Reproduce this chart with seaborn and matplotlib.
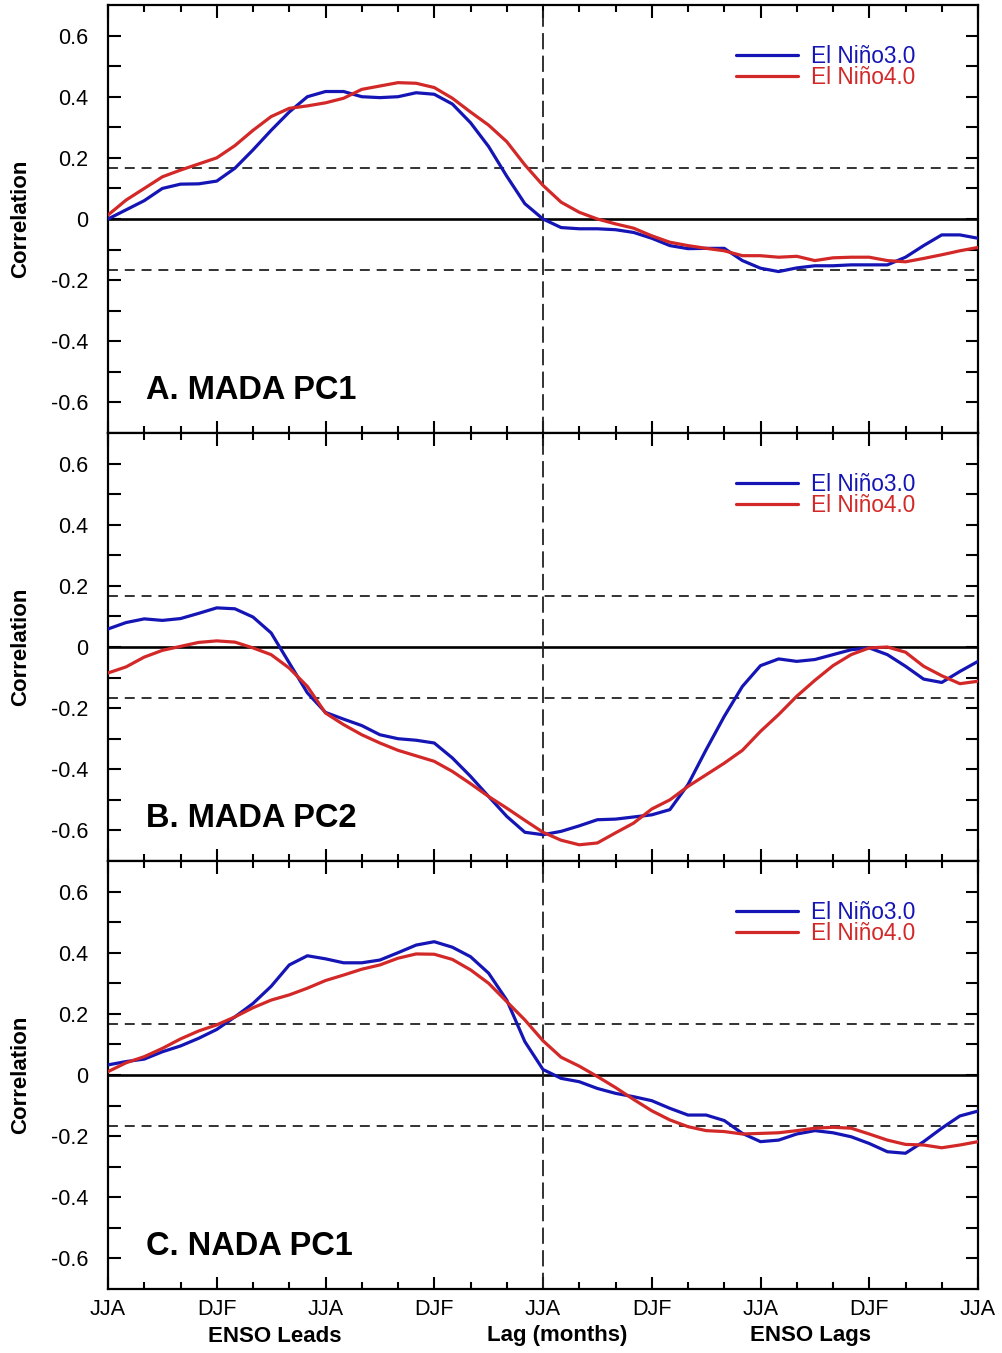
"""
Lagged correlation of MADA/NADA PCs with El Nino 3.0 / 4.0 indices
"""

import numpy as np
import pandas as pd
import matplotlib
matplotlib.use("Agg")
import matplotlib.pyplot as plt
import seaborn as sns

# lag in months: -24 (ENSO leads) .. +24 (ENSO lags)
lags = list(range(-24, 25))

# panel A: MADA PC1
mada1_nino3 = [0.00, 0.03, 0.06, 0.10, 0.114, 0.115, 0.124, 0.166, 0.226, 0.29, 0.35, 0.40,
               0.417, 0.417, 0.40, 0.397, 0.40, 0.413, 0.408, 0.376, 0.315, 0.237, 0.14, 0.05,
               0.0, -0.028, -0.032, -0.032, -0.035, -0.044, -0.063, -0.087, -0.097, -0.096,
               -0.096, -0.136, -0.161, -0.172, -0.16, -0.153, -0.153, -0.15, -0.15, -0.15,
               -0.125, -0.087, -0.052, -0.052, -0.063]
mada1_nino4 = [0.013, 0.062, 0.10, 0.138, 0.16, 0.18, 0.20, 0.24, 0.29, 0.335, 0.362, 0.37,
               0.38, 0.395, 0.424, 0.435, 0.446, 0.444, 0.43, 0.395, 0.35, 0.307, 0.253, 0.177,
               0.11, 0.055, 0.022, 0.0, -0.016, -0.03, -0.055, -0.076, -0.087, -0.096, -0.104,
               -0.12, -0.12, -0.125, -0.122, -0.136, -0.127, -0.125, -0.125, -0.136, -0.14,
               -0.129, -0.117, -0.104, -0.093]

# panel B: MADA PC2
mada2_nino3 = [0.059, 0.08, 0.092, 0.087, 0.093, 0.11, 0.128, 0.125, 0.098, 0.046, -0.052,
               -0.15, -0.214, -0.236, -0.257, -0.287, -0.30, -0.305, -0.314, -0.363, -0.423,
               -0.489, -0.554, -0.606, -0.614, -0.603, -0.585, -0.565, -0.563, -0.556, -0.549,
               -0.532, -0.45, -0.336, -0.227, -0.129, -0.061, -0.039, -0.047, -0.041, -0.025,
               -0.009, -0.003, -0.025, -0.063, -0.105, -0.116, -0.08, -0.047]
mada2_nino4 = [-0.085, -0.065, -0.033, -0.011, 0.002, 0.015, 0.02, 0.016, -0.003, -0.025,
               -0.069, -0.129, -0.216, -0.254, -0.287, -0.314, -0.338, -0.356, -0.374, -0.407,
               -0.447, -0.489, -0.527, -0.567, -0.606, -0.632, -0.647, -0.641, -0.608, -0.576,
               -0.53, -0.50, -0.456, -0.418, -0.38, -0.338, -0.276, -0.221, -0.161, -0.109,
               -0.061, -0.025, -0.003, 0.0, -0.017, -0.063, -0.094, -0.12, -0.112]

# panel C: NADA PC1
nada1_nino3 = [0.033, 0.044, 0.052, 0.076, 0.095, 0.12, 0.149, 0.19, 0.234, 0.29, 0.36, 0.39,
               0.38, 0.367, 0.367, 0.376, 0.40, 0.425, 0.436, 0.418, 0.387, 0.333, 0.245, 0.109,
               0.018, -0.011, -0.022, -0.044, -0.06, -0.071, -0.084, -0.109, -0.131, -0.131,
               -0.149, -0.191, -0.218, -0.213, -0.193, -0.182, -0.189, -0.202, -0.224, -0.251,
               -0.256, -0.218, -0.174, -0.134, -0.118]
nada1_nino4 = [0.011, 0.04, 0.06, 0.087, 0.118, 0.144, 0.164, 0.19, 0.22, 0.245, 0.262, 0.284,
               0.309, 0.327, 0.346, 0.36, 0.382, 0.396, 0.395, 0.378, 0.344, 0.30, 0.24, 0.18,
               0.112, 0.058, 0.029, -0.005, -0.041, -0.08, -0.117, -0.147, -0.169, -0.182,
               -0.185, -0.193, -0.191, -0.189, -0.182, -0.174, -0.171, -0.174, -0.193, -0.213,
               -0.227, -0.229, -0.238, -0.229, -0.218]

panel_titles = ["A. MADA PC1", "B. MADA PC2", "C. NADA PC1"]
series_names = ["El Niño3.0", "El Niño4.0"]
panel_data = [(mada1_nino3, mada1_nino4), (mada2_nino3, mada2_nino4), (nada1_nino3, nada1_nino4)]

sig_level = 0.166  # dashed significance lines
season_labels = ["JJA", "DJF", "JJA", "DJF", "JJA", "DJF", "JJA", "DJF", "JJA"]
ytick_vals = [-0.6, -0.4, -0.2, 0, 0.2, 0.4, 0.6]
ytick_labels = ["-0.6", "-0.4", "-0.2", "0", "0.2", "0.4", "0.6"]

palette = {"El Niño3.0": "#1515b5", "El Niño4.0": "#d32828"}

sns.set_style("ticks")
plt.rcParams['font.family'] = ['Liberation Sans', 'DejaVu Sans']
plt.rcParams['axes.unicode_minus'] = False
plt.rcParams['text.color'] = 'black'

fig = plt.figure(figsize=(10.02, 13.53), dpi=100)

W, H = 1002, 1353
left, right = 108, 978
tops = [5, 433, 861]
ph = 428

axes = []
for i, (blue, red) in enumerate(panel_data):
    top = tops[i]
    ax = fig.add_axes([left / W, (H - top - ph) / H, (right - left) / W, ph / H])
    axes.append(ax)

    df = pd.DataFrame({
        'lag': lags * 2,
        'corr': list(blue) + list(red),
        'index': [series_names[0]] * len(lags) + [series_names[1]] * len(lags),
    })

    ax.axhline(0, color='black', lw=1.9, zorder=1)
    for s in (sig_level, -sig_level):
        ax.axhline(s, color='#222222', lw=1.3, dashes=(5.5, 3.8), zorder=1)
    ax.axvline(0, color='#222222', lw=1.3, dashes=(9, 3.5), zorder=1)

    sns.lineplot(data=df, x='lag', y='corr', hue='index', palette=palette,
                 linewidth=2.3, ax=ax, legend=False, zorder=3)

    ax.set_xlim(-24, 24)
    ax.set_ylim(-0.7, 0.7)
    ax.set_xticks(np.arange(-24, 25, 6))
    ax.set_xticks(np.arange(-24, 25, 2), minor=True)
    ax.set_yticks(ytick_vals)
    ax.set_yticklabels(ytick_labels)
    ax.set_yticks([-0.5, -0.3, -0.1, 0.1, 0.3, 0.5], minor=True)
    ax.tick_params(which='both', direction='in', top=True, right=True, width=1.5,
                   labelsize=15.5, colors='black')
    ax.tick_params(which='major', length=9)
    ax.tick_params(axis='x', which='minor', length=5)
    ax.tick_params(axis='y', which='minor', length=9)
    ax.tick_params(axis='y', pad=14)
    ax.tick_params(axis='x', pad=7)
    for sp in ax.spines.values():
        sp.set_linewidth(1.6)
        sp.set_color('black')

    if i < 2:
        ax.set_xticklabels([])
    else:
        ax.set_xticklabels(season_labels)
    ax.set_xlabel('')
    ax.set_ylabel('')

    ax.text(0.044, 0.079, panel_titles[i], transform=ax.transAxes, fontsize=23.5,
            fontweight='bold', ha='left', va='baseline', color='black')

    handles = [plt.Line2D([], [], color=palette[n], lw=2.3) for n in series_names]
    ax.legend(handles, series_names, loc='upper left', bbox_to_anchor=(0.722, 0.906),
              frameon=False, fontsize=16.3, handlelength=2.75, handletextpad=0.55,
              labelspacing=-0.08, borderpad=0, borderaxespad=0, labelcolor='linecolor')

    fig.text(0.021, (H - top - ph / 2) / H, 'Correlation', rotation=90, fontsize=16,
             fontweight='bold', ha='center', va='center', color='black')

# bottom axis captions
fig.text(275 / W, (H - 1336) / H, 'ENSO Leads', fontsize=16, fontweight='bold',
         ha='center', va='center', color='black')
fig.text(557 / W, (H - 1336) / H, 'Lag (months)', fontsize=16, fontweight='bold',
         ha='center', va='center', color='black')
fig.text(810 / W, (H - 1336) / H, 'ENSO Lags', fontsize=16, fontweight='bold',
         ha='center', va='center', color='black')

fig.savefig('out.png', dpi=100)
